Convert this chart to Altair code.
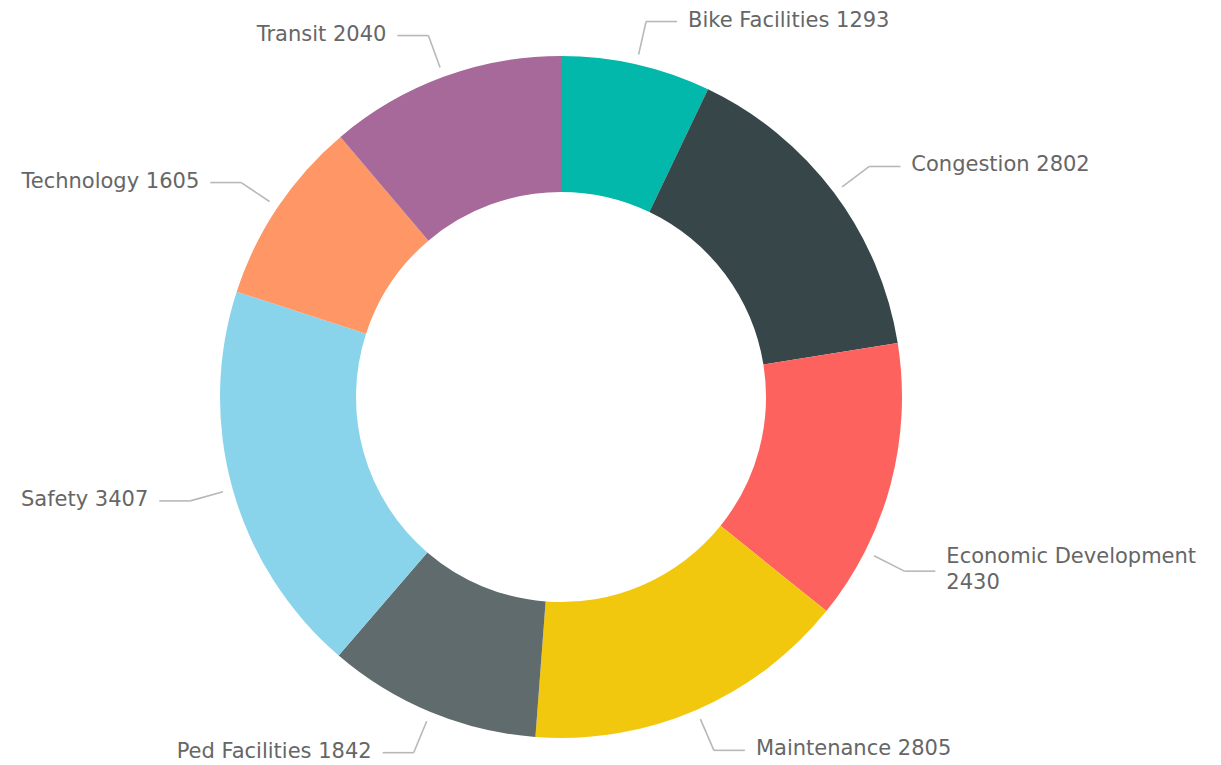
import altair as alt
import pandas as pd

# ---- data ----
categories = ["Bike Facilities", "Congestion", "Economic Development", "Maintenance",
              "Ped Facilities", "Safety", "Technology", "Transit"]
values = [1293, 2802, 2430, 2805, 1842, 3407, 1605, 2040]
colors = ["#01B8AA", "#374649", "#FD625E", "#F2C80F",
          "#5F6B6D", "#8AD4EB", "#FE9666", "#A66999"]

# labels that wrap onto two lines (as in the reference)
wrap_labels = {"Economic Development"}

df = pd.DataFrame({
    "idx": list(range(len(categories))),
    "category": categories,
    "value": values,
})
df["label"] = [c + ("\n" if c in wrap_labels else " ") + str(v) for c, v in zip(categories, values)]

# ---- layout constants ----
W, H = 1122, 736
OUTER, INNER = 341, 205
R_START, R_ELBOW, HSEG, GAP = 351, 385, 31, 11
FONT = "DejaVu Sans"
FONT_SIZE = 21
LINE_H = 26
TEXT_COLOR = "#666666"
LINE_COLOR = "#b8b8b8"

xs = alt.Scale(domain=[-W / 2, W / 2], nice=False, zero=False)
ys = alt.Scale(domain=[-H / 2, H / 2], nice=False, zero=False)

base = alt.Chart(df)

donut = base.mark_arc(innerRadius=INNER, outerRadius=OUTER, stroke=None).encode(
    theta=alt.Theta("value:Q", stack=True),
    color=alt.Color("category:N", scale=alt.Scale(domain=categories, range=colors), legend=None),
    order=alt.Order("idx:Q"),
)

geo = (
    base.transform_joinaggregate(total="sum(value)")
    .transform_window(cum="sum(value)", sort=[alt.SortField("idx")])
    .transform_calculate(
        nudge="datum.category == 'Economic Development' ? 12 * PI / 180 : 0",
    )
    .transform_calculate(ang="(datum.cum - datum.value / 2) / datum.total * 2 * PI + datum.nudge")
    .transform_calculate(
        sx=f"{R_START} * sin(datum.ang)",
        sy=f"{R_START} * cos(datum.ang)",
        ex=f"{R_ELBOW} * sin(datum.ang)",
        ey=f"{R_ELBOW} * cos(datum.ang)",
        side="sin(datum.ang) >= 0 ? 1 : -1",
    )
    .transform_calculate(
        hx=f"datum.ex + datum.side * {HSEG}",
        ty=f"datum.ey + (indexof(datum.label, '\\n') >= 0 ? {LINE_H / 2} : 0)",
    )
    .transform_calculate(tx=f"datum.hx + datum.side * {GAP}")
)

seg1 = geo.mark_rule(color=LINE_COLOR, strokeWidth=1.6).encode(
    x=alt.X("sx:Q", scale=xs, axis=None),
    y=alt.Y("sy:Q", scale=ys, axis=None),
    x2="ex:Q",
    y2="ey:Q",
)
seg2 = geo.mark_rule(color=LINE_COLOR, strokeWidth=1.6).encode(
    x=alt.X("ex:Q", scale=xs, axis=None),
    y=alt.Y("ey:Q", scale=ys, axis=None),
    x2="hx:Q",
    y2="ey:Q",
)

text_kw = dict(font=FONT, fontSize=FONT_SIZE, color=TEXT_COLOR, baseline="middle",
               lineBreak="\n", lineHeight=LINE_H, dy=-1)
right_txt = geo.transform_filter("datum.side > 0").mark_text(align="left", **text_kw).encode(
    x=alt.X("tx:Q", scale=xs, axis=None),
    y=alt.Y("ty:Q", scale=ys, axis=None),
    text="label:N",
)
left_txt = geo.transform_filter("datum.side < 0").mark_text(align="right", **text_kw).encode(
    x=alt.X("tx:Q", scale=xs, axis=None),
    y=alt.Y("ty:Q", scale=ys, axis=None),
    text="label:N",
)

chart = (
    alt.layer(donut, seg1, seg2, right_txt, left_txt)
    .properties(
        width=W,
        height=H,
        padding={"left": 0, "top": 29, "right": 99, "bottom": 0},
        autosize=alt.AutoSizeParams(type="none"),
        background="white",
    )
    .configure_view(stroke=None)
)

chart.save("out.html", embed_options={"renderer": "svg", "actions": False})
